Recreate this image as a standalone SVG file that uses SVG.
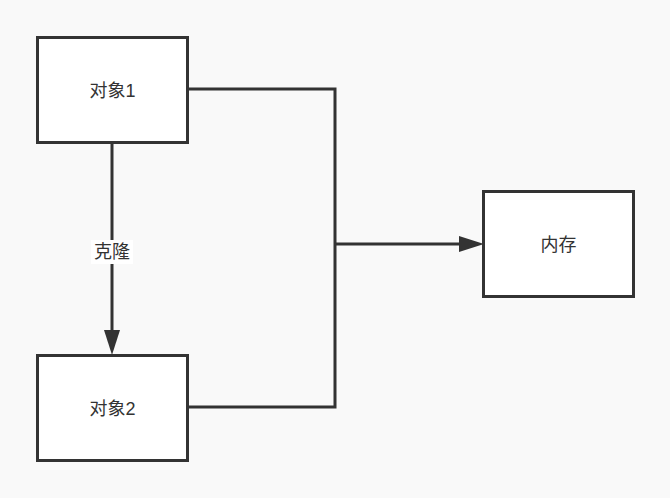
<svg xmlns="http://www.w3.org/2000/svg" width="670" height="498" viewBox="0 0 670 498">
<style>
.node rect{fill:#ffffff;stroke:#333333;stroke-width:3}
.node text,.lbl{font-family:"Liberation Sans","Noto Sans CJK SC",sans-serif;font-size:18px;fill:#333333;text-anchor:middle;dominant-baseline:central}
.edge{fill:none;stroke:#333333;stroke-width:3}
</style>
<rect width="670" height="498" fill="#f9f9f9"/>
<g id="connectors">
<path class="edge" d="M187,89 H335 V407 H187"/>
<path class="edge" d="M335,244 H460"/>
<path d="M459,236 L484,244 L459,252 Z" fill="#333333"/>
<path class="edge" d="M112,142 V332"/>
<path d="M104,330 L112,355 L120,330 Z" fill="#333333"/>
<rect x="91" y="240" width="42" height="24" fill="#ffffff"/>
<text class="lbl" x="112" y="252">克隆</text>
</g>
<g id="obj1" class="node"><rect x="37.5" y="37.5" width="150" height="105"/><text x="112.5" y="91">对象1</text></g>
<g id="obj2" class="node"><rect x="37.5" y="355.5" width="150" height="105"/><text x="112.5" y="409">对象2</text></g>
<g id="mem" class="node"><rect x="483.5" y="191.5" width="150" height="105"/><text x="558.5" y="245">内存</text></g>
</svg>
